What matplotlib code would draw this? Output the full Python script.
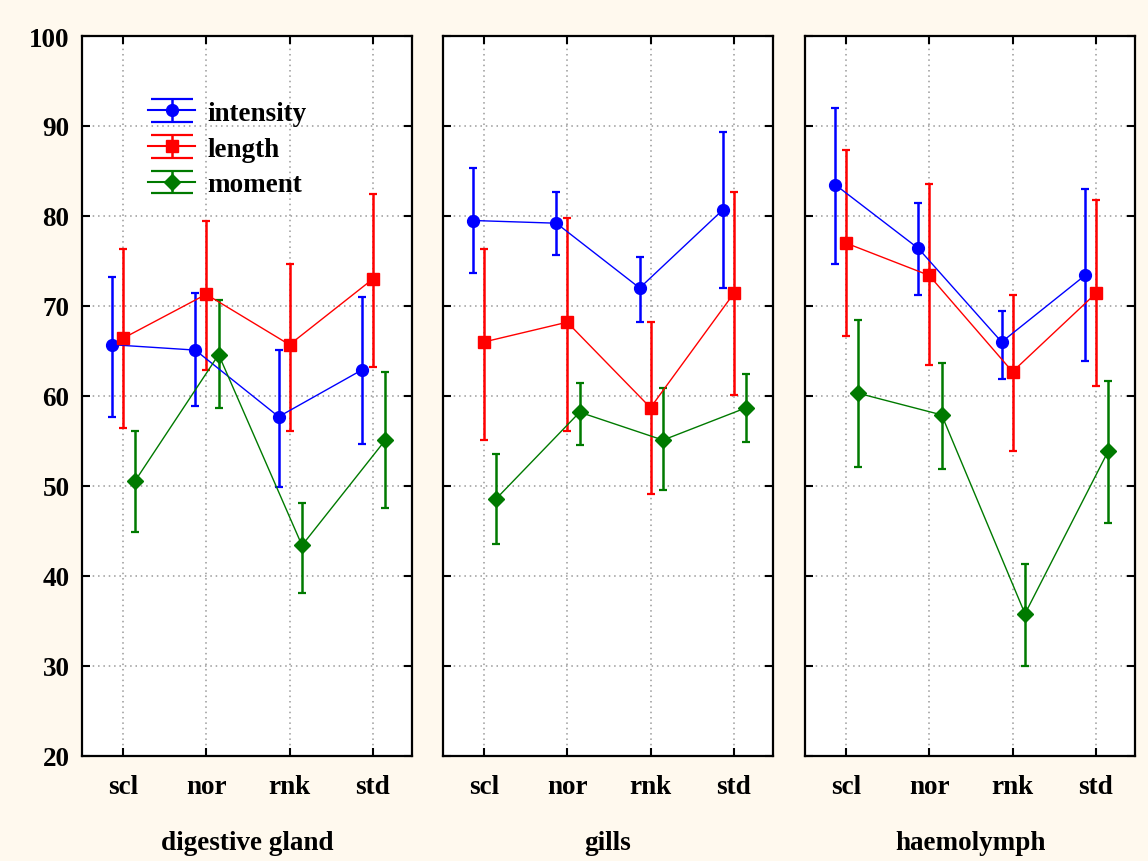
import matplotlib
matplotlib.use("Agg")
import matplotlib.pyplot as plt
from matplotlib.legend_handler import HandlerErrorbar
import numpy as np

plt.rcParams['font.family'] = ['Liberation Serif', 'DejaVu Serif']
plt.rcParams['font.weight'] = 'bold'

methods = ["scl", "nor", "rnk", "std"]
tissues = ["digestive gland", "gills", "haemolymph"]
series_names = ["intensity", "length", "moment"]

# digestive gland
dg_intensity = [65.7, 65.1, 57.7, 62.9]
dg_intensity_lo = [57.7, 58.9, 49.9, 54.7]
dg_intensity_hi = [73.2, 71.4, 65.1, 71.0]
dg_length = [66.4, 71.3, 65.7, 73.0]
dg_length_lo = [56.4, 62.9, 56.1, 63.2]
dg_length_hi = [76.3, 79.5, 74.7, 82.5]
dg_moment = [50.6, 64.6, 43.4, 55.1]
dg_moment_lo = [44.9, 58.7, 38.1, 47.6]
dg_moment_hi = [56.1, 70.7, 48.1, 62.7]

# gills
gi_intensity = [79.5, 79.2, 72.0, 80.7]
gi_intensity_lo = [73.7, 75.7, 68.2, 72.0]
gi_intensity_hi = [85.3, 82.7, 75.5, 89.3]
gi_length = [66.0, 68.2, 58.7, 71.4]
gi_length_lo = [55.1, 56.1, 49.1, 60.1]
gi_length_hi = [76.3, 79.8, 68.2, 82.7]
gi_moment = [48.6, 58.2, 55.1, 58.7]
gi_moment_lo = [43.6, 54.6, 49.6, 54.9]
gi_moment_hi = [53.6, 61.4, 60.9, 62.4]

# haemolymph
hl_intensity = [83.5, 76.4, 66.0, 73.4]
hl_intensity_lo = [74.7, 71.2, 61.9, 63.9]
hl_intensity_hi = [92.0, 81.5, 69.4, 83.0]
hl_length = [77.0, 73.4, 62.7, 71.4]
hl_length_lo = [66.7, 63.4, 53.9, 61.1]
hl_length_hi = [87.3, 83.6, 71.2, 81.8]
hl_moment = [60.3, 57.9, 35.8, 53.9]
hl_moment_lo = [52.1, 51.9, 30.0, 45.9]
hl_moment_hi = [68.4, 63.7, 41.3, 61.7]

panels = [
    [(dg_intensity, dg_intensity_lo, dg_intensity_hi),
     (dg_length, dg_length_lo, dg_length_hi),
     (dg_moment, dg_moment_lo, dg_moment_hi)],
    [(gi_intensity, gi_intensity_lo, gi_intensity_hi),
     (gi_length, gi_length_lo, gi_length_hi),
     (gi_moment, gi_moment_lo, gi_moment_hi)],
    [(hl_intensity, hl_intensity_lo, hl_intensity_hi),
     (hl_length, hl_length_lo, hl_length_hi),
     (hl_moment, hl_moment_lo, hl_moment_hi)],
]

colors = ["#0000FF", "#FF0000", "#007A00"]
markers = ["o", "s", "D"]
msizes = [8.5, 8.5, 8.0]
offsets = [-0.13, 0.0, 0.15]
FS = 19.5

fig = plt.figure(figsize=(11.48, 8.62), dpi=100)
fig.patch.set_facecolor("#FFF9EE")

lefts = [82, 443, 805]
width = 330
bottom_px, top_px = 757, 37
W, H = 1148, 862

x = np.arange(len(methods))
for pi, (left, tissue, pdata) in enumerate(zip(lefts, tissues, panels)):
    ax = fig.add_axes([left / W, 1 - bottom_px / H, width / W, (bottom_px - top_px) / H])
    ax.set_facecolor("white")
    for si, (vals, lo, hi) in enumerate(pdata):
        v = np.array(vals)
        yerr = [v - np.array(lo), np.array(hi) - v]
        ax.errorbar(x + offsets[si], v, yerr=yerr, color=colors[si], marker=markers[si],
                    ms=msizes[si], lw=1.0, elinewidth=1.8, capsize=3, capthick=1.6,
                    zorder=3)
    ax.set_xlim(-0.49, 3.47)
    ax.set_ylim(20, 100)
    ax.set_yticks(np.arange(20, 101, 10))
    ax.set_xticks(x)
    ax.set_xticklabels(methods)
    ax.grid(True, linestyle=(0, (1, 2.5)), color="#999999", lw=1.1)
    ax.set_axisbelow(True)
    ax.tick_params(direction="in", length=6, width=1.5, top=True, right=True,
                   labelsize=FS, pad=9)
    ax.tick_params(axis="x", pad=13)
    if pi > 0:
        ax.tick_params(labelleft=False)
    for s in ax.spines.values():
        s.set_linewidth(1.6)
    ax.set_xlabel(tissue, fontsize=FS, fontweight="bold", labelpad=22)
    for lab in ax.get_xticklabels() + ax.get_yticklabels():
        lab.set_fontweight("bold")
    if pi == 0:
        handles = []
        for si in range(3):
            h = ax.errorbar([np.nan], [np.nan], yerr=[[1.0], [1.0]], color=colors[si],
                            marker=markers[si], ms=msizes[si], lw=1.5, elinewidth=1.8,
                            capsize=15, capthick=1.6)
            handles.append(h)
        ax.legend(handles, series_names, loc="upper left", bbox_to_anchor=(0.2, 0.91),
                  frameon=False, prop={"size": FS, "weight": "bold"},
                  handlelength=1.75, handletextpad=0.45, labelspacing=0.4,
                  borderaxespad=0, borderpad=0,
                  handler_map={type(handles[0]): HandlerErrorbar(xerr_size=0.5, yerr_size=0.42)})

fig.savefig("out.png", dpi=100, facecolor=fig.get_facecolor())
